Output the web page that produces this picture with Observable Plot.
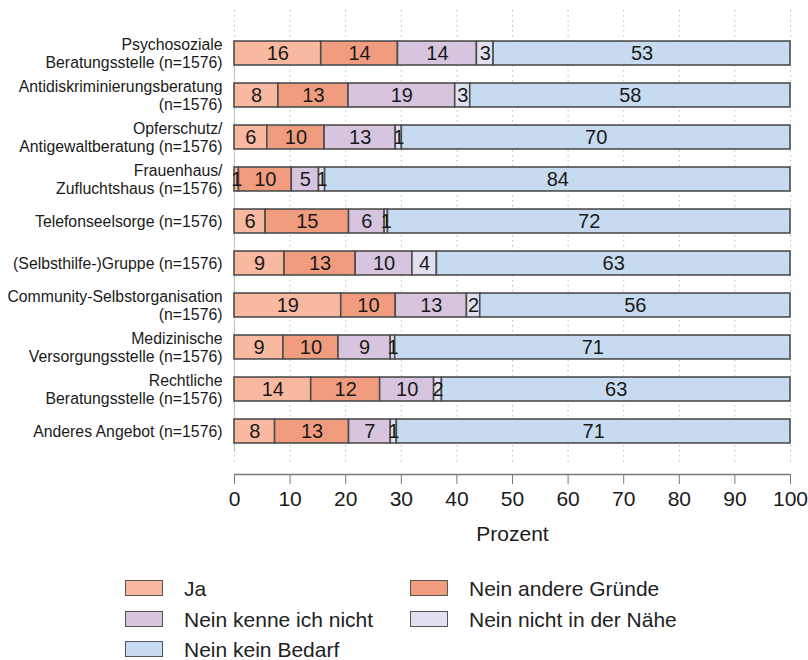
<!DOCTYPE html>
<html>
<head>
<meta charset="utf-8">
<script src="https://cdn.jsdelivr.net/npm/d3@7"></script>
<script src="https://cdn.jsdelivr.net/npm/@observablehq/plot@0.6"></script>
<style>
  body { margin: 0; background: #fff; font-family: "Liberation Sans", Arial, sans-serif; overflow: hidden; }
  #legend { position: relative; width: 808px; height: 108px; }
  .item { position: absolute; display: flex; align-items: center; font-size: 21px; line-height: 1; color: #222; }
  .sw { width: 38px; height: 16px; border: 1.5px solid #555; margin-right: 21px; box-sizing: border-box; }
</style>
</head>
<body>
<div id="chart"></div>
<div id="legend"></div>
<script>
// Categories (top to bottom)
const categories = [
  "Psychosoziale\nBeratungsstelle (n=1576)",
  "Antidiskriminierungsberatung\n(n=1576)",
  "Opferschutz/\nAntigewaltberatung (n=1576)",
  "Frauenhaus/\nZufluchtshaus (n=1576)",
  "Telefonseelsorge (n=1576)",
  "(Selbsthilfe-)Gruppe (n=1576)",
  "Community-Selbstorganisation\n(n=1576)",
  "Medizinische\nVersorgungsstelle (n=1576)",
  "Rechtliche\nBeratungsstelle (n=1576)",
  "Anderes Angebot (n=1576)"
];
const series = ["Ja", "Nein andere Gründe", "Nein kenne ich nicht", "Nein nicht in der Nähe", "Nein kein Bedarf"];
const colors = ["#F9B8A0", "#F29C7F", "#D7C5E0", "#E1E0F0", "#C6DBEF"];

// Percent values (estimated widths)
const ja       = [15.6, 7.9, 5.9, 0.8, 5.6, 9.0, 19.2, 8.8, 13.8, 7.3];
const andere   = [13.8, 12.6, 10.3, 9.5, 15.0, 12.8, 9.8, 9.9, 12.4, 13.3];
const kenne    = [14.2, 19.2, 12.8, 4.9, 6.4, 10.2, 12.8, 9.4, 9.7, 7.5];
const naehe    = [3.0, 2.7, 1.1, 1.1, 0.6, 4.4, 2.4, 0.8, 1.4, 1.1];
const bedarf   = [53.4, 57.6, 69.9, 83.7, 72.4, 63.6, 55.8, 71.1, 62.7, 70.8];

// Printed labels
const jaLab     = [16, 8, 6, 1, 6, 9, 19, 9, 14, 8];
const andereLab = [14, 13, 10, 10, 15, 13, 10, 10, 12, 13];
const kenneLab  = [14, 19, 13, 5, 6, 10, 13, 9, 10, 7];
const naeheLab  = [3, 3, 1, 1, 1, 4, 2, 1, 2, 1];
const bedarfLab = [53, 58, 70, 84, 72, 63, 56, 71, 63, 71];

const xTicks = [0, 10, 20, 30, 40, 50, 60, 70, 80, 90, 100];

const values = [ja, andere, kenne, naehe, bedarf];
const labels = [jaLab, andereLab, kenneLab, naeheLab, bedarfLab];

const rows = [];
categories.forEach((c, i) => {
  let acc = 0;
  series.forEach((s, k) => {
    const v = values[k][i];
    rows.push({i, cat: c, series: s, x1: acc, x2: acc + v, label: labels[k][i]});
    acc += v;
  });
});
const half = 0.285;
const yTop = -1.024, yBottom = 10.024, gridEnd = 9.786;

const chart = Plot.plot({
  width: 808,
  height: 550,
  marginLeft: 234,
  marginRight: 18,
  marginTop: 10,
  marginBottom: 76,
  style: {fontFamily: "Liberation Sans, Arial, sans-serif", background: "white"},
  x: {domain: [0, 100], axis: null},
  y: {domain: [yTop, yBottom], reverse: true, axis: null},
  color: {domain: series, range: colors},
  marks: [
    Plot.ruleX(xTicks, {x: d => d, y1: yTop, y2: gridEnd, stroke: "#bdbdbd", strokeWidth: 1, strokeDasharray: "1.5,3.5"}),
    Plot.ruleX([0], {y1: -half, y2: 9 + half + 0.2, stroke: "#c4c4c4", strokeWidth: 1.2}),
    Plot.rectX(rows, {x1: "x1", x2: "x2", y1: d => d.i - half, y2: d => d.i + half, fill: "series", stroke: "#4d4d4d", strokeWidth: 1.6}),
    Plot.text(rows, {x: d => (d.x1 + d.x2) / 2, y: "i", text: "label", fontSize: 20, fill: "#1a1a1a"}),
    Plot.text(categories, {x: 0, y: (d, i) => i, text: d => d, textAnchor: "end", dx: -12, fontSize: 15.8, lineHeight: 1.1, fill: "#1a1a1a"}),
    Plot.ruleY([yBottom], {x1: 0, x2: 100, stroke: "#7a7a7a", strokeWidth: 1.5}),
    Plot.axisX({ticks: xTicks, tickSize: 10, tickPadding: 7, fontSize: 21, stroke: "#7a7a7a", color: "#1a1a1a", label: "Prozent", labelAnchor: "center", labelOffset: 66, labelArrow: "none", tickFormat: d => String(d)})
  ]
});
document.getElementById("chart").appendChild(chart);

// Legend
const legend = document.getElementById("legend");
const pos = [[125, 38], [410, 38], [125, 69], [410, 69], [125, 99]];
series.forEach((s, k) => {
  const it = document.createElement("div");
  it.className = "item";
  it.style.left = pos[k][0] + "px";
  it.style.top = (pos[k][1] - 11) + "px";
  it.style.height = "22px";
  const sw = document.createElement("div");
  sw.className = "sw";
  sw.style.background = colors[k];
  const tx = document.createElement("span");
  tx.textContent = s;
  it.appendChild(sw);
  it.appendChild(tx);
  legend.appendChild(it);
});
</script>
</body>
</html>
